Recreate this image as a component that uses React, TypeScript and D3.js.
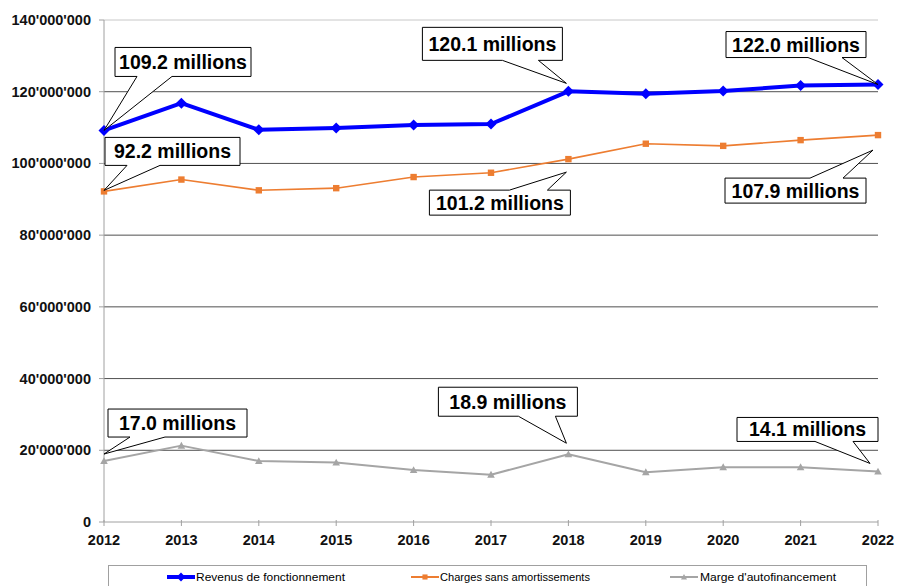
import React from "react";
import * as d3 from "d3";

const years = ["2012","2013","2014","2015","2016","2017","2018","2019","2020","2021","2022"];
const revenus = [109.2, 116.8, 109.4, 109.9, 110.7, 111.0, 120.1, 119.4, 120.2, 121.7, 122.0];
const charges = [92.2, 95.5, 92.5, 93.1, 96.2, 97.4, 101.2, 105.5, 104.9, 106.5, 107.9];
const marge = [17.0, 21.3, 17.0, 16.6, 14.5, 13.2, 18.9, 13.9, 15.3, 15.3, 14.1];
const yTicks = [0, 20e6, 40e6, 60e6, 80e6, 100e6, 120e6, 140e6];
const seriesNames = ["Revenus de fonctionnement", "Charges sans amortissements", "Marge d'autofinancement"];

type Callout = { s: number; i: number; label: string; dx: number; dy: number; w: number; h: number; side: "bottom" | "top"; b1: number; b2: number; tx: number; ty: number };
const callouts: Callout[] = [
  { s: 0, i: 0, label: "109.2 millions", dx: 11, dy: -83, w: 136, h: 29, side: "bottom", b1: 22, b2: 57, tx: 0, ty: 0 },
  { s: 1, i: 0, label: "92.2 millions", dx: 1, dy: -54, w: 135, h: 28, side: "bottom", b1: 22, b2: 55, tx: 0, ty: -1 },
  { s: 0, i: 6, label: "120.1 millions", dx: -146, dy: -64, w: 140, h: 33, side: "bottom", b1: 80, b2: 116, tx: -2, ty: -8 },
  { s: 0, i: 10, label: "122.0 millions", dx: -152, dy: -53, w: 140, h: 26, side: "bottom", b1: 82, b2: 116, tx: 0, ty: 0 },
  { s: 1, i: 6, label: "101.2 millions", dx: -139, dy: 31, w: 141, h: 25, side: "top", b1: 80, b2: 118, tx: -2, ty: 13 },
  { s: 1, i: 10, label: "107.9 millions", dx: -153, dy: 43, w: 141, h: 25, side: "top", b1: 85, b2: 118, tx: -5, ty: 15 },
  { s: 2, i: 0, label: "17.0 millions", dx: 4, dy: -52, w: 139, h: 28, side: "bottom", b1: 22, b2: 57, tx: 0, ty: -7 },
  { s: 2, i: 6, label: "18.9 millions", dx: -130, dy: -67, w: 139, h: 29, side: "bottom", b1: 80, b2: 117, tx: -2, ty: -11 },
  { s: 2, i: 10, label: "14.1 millions", dx: -141, dy: -54, w: 141, h: 24, side: "bottom", b1: 78, b2: 116, tx: -8, ty: -8 },
];

const W = 898, H = 586;
const L = 104, R = 878, T = 20, B = 522;

export default function App() {
  const x = d3.scalePoint<string>().domain(years).range([L, R]);
  const y = d3.scaleLinear().domain([0, 140e6]).range([B, T]);
  const data = [revenus, charges, marge];
  const colors = ["#0000FF", "#ED7D31", "#A5A5A5"];
  const widths = [4, 1.6, 2];
  const line = (vals: number[]) =>
    d3.line<number>().x((_, i) => x(years[i])!).y((v) => y(v * 1e6))(vals)!;
  const fmt = (v: number) => d3.format(",")(v).replace(/,/g, "'");
  const font = "'Liberation Sans', Arial, sans-serif";

  const marker = (s: number, cx: number, cy: number, key: string, scale = 1) => {
    if (s === 0) {
      const r = 5.5 * scale;
      return <path key={key} d={`M${cx},${cy - r}L${cx + r},${cy}L${cx},${cy + r}L${cx - r},${cy}Z`} fill={colors[0]} />;
    }
    if (s === 1) {
      const r = 3.2 * scale;
      return <rect key={key} x={cx - r} y={cy - r} width={2 * r} height={2 * r} fill={colors[1]} />;
    }
    const r = 3.8 * scale;
    return <path key={key} d={`M${cx},${cy - r}L${cx + r},${cy + r * 0.8}L${cx - r},${cy + r * 0.8}Z`} fill={colors[2]} />;
  };

  const calloutPath = (c: Callout) => {
    const px = x(years[c.i])!, py = y(data[c.s][c.i] * 1e6);
    const left = px + c.dx, top = py + c.dy, right = left + c.w, bottom = top + c.h;
    const tipX = px + c.tx, tipY = py + c.ty;
    if (c.side === "bottom") {
      return `M${left},${top}H${right}V${bottom}H${left + c.b2}L${tipX},${tipY}L${left + c.b1},${bottom}H${left}Z`;
    }
    return `M${left},${top}H${left + c.b1}L${tipX},${tipY}L${left + c.b2},${top}H${right}V${bottom}H${left}Z`;
  };

  const legendItems = [
    { lx: 167, tx: 196 },
    { lx: 411, tx: 440 },
    { lx: 670, tx: 700 },
  ];

  return (
    <svg width={W} height={H} style={{ position: "absolute", left: 0, top: 0, background: "#fff" }} fontFamily={font}>
      <rect x={0} y={0} width={W} height={H} fill="#fff" />
      {yTicks.map((t) => (
        <g key={t}>
          {t > 0 && (
            <line x1={L} x2={R} y1={y(t)} y2={y(t)} stroke={t === 140e6 ? "#C8C8C8" : "#505050"} strokeWidth={1} />
          )}
          <line x1={L - 5} x2={L} y1={y(t)} y2={y(t)} stroke="#A0A0A0" />
          <text x={91} y={y(t) + 5} textAnchor="end" fontSize={14.5} fontWeight="bold" fill="#111">
            {fmt(t)}
          </text>
        </g>
      ))}
      <line x1={L} x2={L} y1={T} y2={B} stroke="#A0A0A0" />
      <line x1={L} x2={R} y1={B} y2={B} stroke="#A0A0A0" />
      {years.map((yr) => (
        <g key={yr}>
          <line x1={x(yr)!} x2={x(yr)!} y1={B - 2} y2={B + 4} stroke="#A0A0A0" />
          <text x={x(yr)!} y={545} textAnchor="middle" fontSize={14.5} fontWeight="bold" fill="#111">
            {yr}
          </text>
        </g>
      ))}
      {[2, 1, 0].map((s) => (
        <g key={s}>
          <path d={line(data[s])} fill="none" stroke={colors[s]} strokeWidth={widths[s]} strokeLinejoin="round" />
          {data[s].map((v, i) => marker(s, x(years[i])!, y(v * 1e6), `${s}-${i}`))}
        </g>
      ))}
      {callouts.map((c, k) => {
        const px = x(years[c.i])!, py = y(data[c.s][c.i] * 1e6);
        const left = px + c.dx, top = py + c.dy;
        return (
          <g key={k}>
            <path d={calloutPath(c)} fill="#fff" stroke="#000" strokeWidth={1} />
            <text x={left + c.w / 2} y={top + c.h / 2 + 7} textAnchor="middle" fontSize={19.5} fontWeight="bold" fill="#000">
              {c.label}
            </text>
          </g>
        );
      })}
      <rect x={108.5} y={565.5} width={758} height={40} fill="#fff" stroke="#A0A0A0" />
      {legendItems.map((it, s) => (
        <g key={s}>
          <line x1={it.lx} x2={it.lx + 28} y1={577} y2={577} stroke={colors[s]} strokeWidth={s === 0 ? 4 : 2} />
          {marker(s, it.lx + 14, 577, `lg${s}`, 0.8)}
          <text x={it.tx} y={581} fontSize={11.5} fill="#000" textLength={s === 0 ? 149 : s === 1 ? 150 : 136} lengthAdjust="spacingAndGlyphs">
            {seriesNames[s]}
          </text>
        </g>
      ))}
    </svg>
  );
}
